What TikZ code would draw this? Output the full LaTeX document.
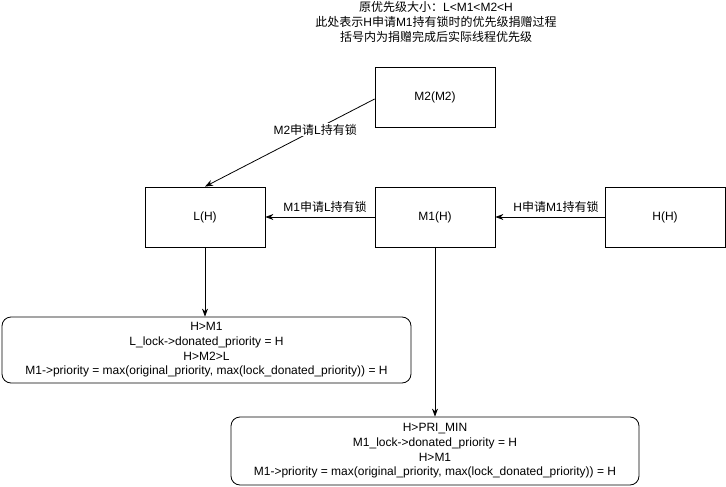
\documentclass[tikz,border=0pt]{standalone}
\usepackage{fontspec}
\setmainfont{Liberation Sans}
\newfontfamily\cjk{Noto Sans CJK SC}
\newcommand\zh[1]{{\cjk #1}}
\usetikzlibrary{arrows.meta}
\begin{document}
\begin{tikzpicture}[x=1pt,y=-1pt,
  every node/.style={font=\fontsize{12}{14.6}\selectfont},
  proc/.style={draw,line width=0.8pt,minimum width=120pt,minimum height=60pt,inner sep=0pt},
  note/.style={draw,line width=0.8pt,rounded corners=9pt,inner sep=0pt,align=center},
  link/.style={draw,line width=0.8pt,-{Stealth[length=8pt,width=6pt]}},
  lbl/.style={fill=white,inner sep=1pt}]
\useasboundingbox (0,0) rectangle (726,487);
\fill[white] (0,0) rectangle (726,487);

% legend
\node[align=center] (legend) at (436,22)
  {\zh{原优先级大小：}L<M1<M2<H\\
   \zh{此处表示}H\zh{申请}M1\zh{持有锁时的优先级捐赠过程}\\
   \zh{括号内为捐赠完成后实际线程优先级}};

% threads
\node[proc] (m2) at (435,97) {M2(M2)};
\node[proc] (l)  at (205,217) {L(H)};
\node[proc] (m1) at (435,217) {M1(H)};
\node[proc] (h)  at (665,217) {H(H)};

% priority notes
\node[note,minimum width=409pt,minimum height=66pt] (nl) at (206.5,350)
  {H>M1\\L\_lock->donated\_priority = H\\H>M2>L\\M1->priority = max(original\_priority, max(lock\_donated\_priority)) = H};
\node[note,minimum width=408pt,minimum height=68pt] (nm) at (435,451)
  {H>PRI\_MIN\\M1\_lock->donated\_priority = H\\H>M1\\M1->priority = max(original\_priority, max(lock\_donated\_priority)) = H};

% lock requests
\path[link] ([yshift=-2pt]m2.west) -- (l.north)
  node[lbl,pos=0.35] (lab1) {M2\zh{申请}L\zh{持有锁}};
\path[link] (m1.west) -- (l.east);
\node (lab2) at (325,207) {M1\zh{申请}L\zh{持有锁}};
\path[link] (h.west) -- (m1.east);
\node (lab3) at (556,207) {H\zh{申请}M1\zh{持有锁}};

\path[link] (l.south) -- (nl.north -| l.south);
\path[link] (m1.south) -- (nm.north);
\end{tikzpicture}
\end{document}
